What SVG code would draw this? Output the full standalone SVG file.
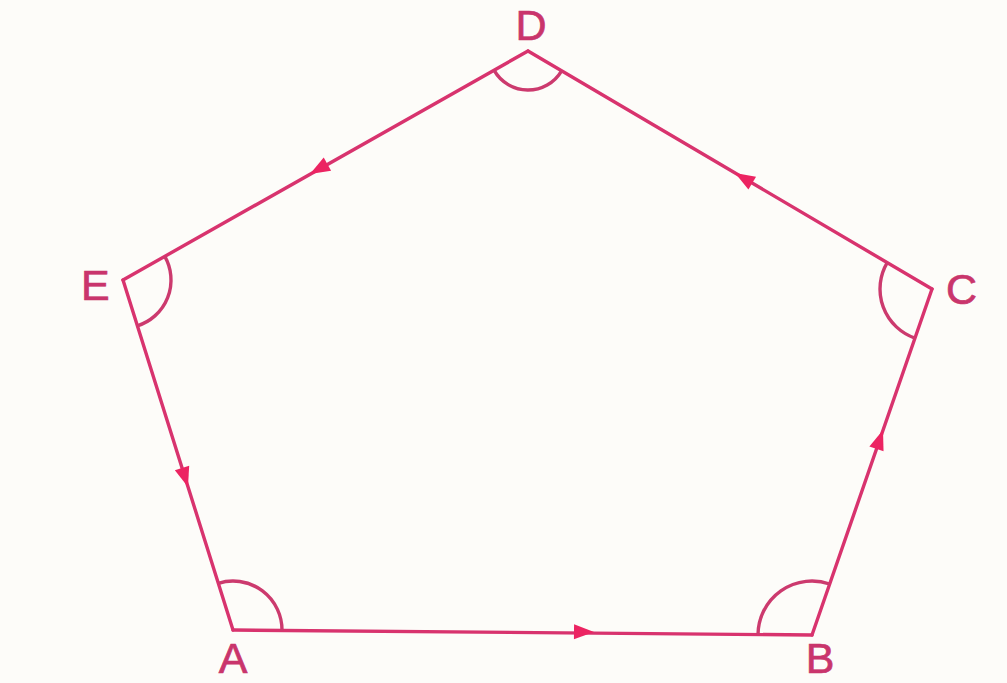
<svg xmlns="http://www.w3.org/2000/svg" width="1007" height="683" viewBox="0 0 1007 683">
<style>
.edge{stroke:#d8336e;stroke-width:3.4;fill:none;stroke-linecap:round}
.arc{stroke:#cc3a6e;stroke-width:3.4;fill:none}
.arrow{fill:#ec2462}
.lbl{font-family:"Liberation Sans",Arial,sans-serif;font-size:43px;fill:#c9356c;stroke:#c9356c;stroke-width:0.7}
</style>
<defs>
<path id="arr" d="M0,0 L-20,-7.5 L-20,7.5 Z"/>
</defs>
<rect width="1007" height="683" fill="#fdfcf9"/>
<g id="connectors">
<line class="edge" x1="233" y1="630" x2="812" y2="635"/>
<line class="edge" x1="812" y1="635" x2="932" y2="289"/>
<line class="edge" x1="932" y1="289" x2="528" y2="51"/>
<line class="edge" x1="528" y1="51" x2="123" y2="280"/>
<line class="edge" x1="123" y1="280" x2="233" y2="630"/>
<use href="#arr" class="arrow" transform="translate(594,632) rotate(0.5)"/>
<use href="#arr" class="arrow" transform="translate(883,430) rotate(-70.9)"/>
<use href="#arr" class="arrow" transform="translate(735,173) rotate(-149.5)"/>
<use href="#arr" class="arrow" transform="translate(310,174) rotate(150.5)"/>
<use href="#arr" class="arrow" transform="translate(188,487) rotate(72.6)"/>
</g>
<g id="A">
<path class="arc" d="M218.3,583.3 A49,49 0 0 1 282,630.4"/>
<text class="lbl" x="233" y="673" text-anchor="middle">A</text>
</g>
<g id="B">
<path class="arc" d="M758,634.5 A54,54 0 0 1 829.7,584"/>
<text class="lbl" x="820" y="673" text-anchor="middle">B</text>
</g>
<g id="C">
<path class="arc" d="M914.9,338.1 A52,52 0 0 1 887.2,262.6"/>
<text class="lbl" x="946" y="304">C</text>
</g>
<g id="D">
<path class="arc" d="M561.6,70.8 A39,39 0 0 1 494,70.2"/>
<text class="lbl" x="531" y="40" text-anchor="middle">D</text>
</g>
<g id="E">
<path class="arc" d="M164.8,256.4 A48,48 0 0 1 137.4,325.8"/>
<text class="lbl" x="81" y="300">E</text>
</g>
</svg>
